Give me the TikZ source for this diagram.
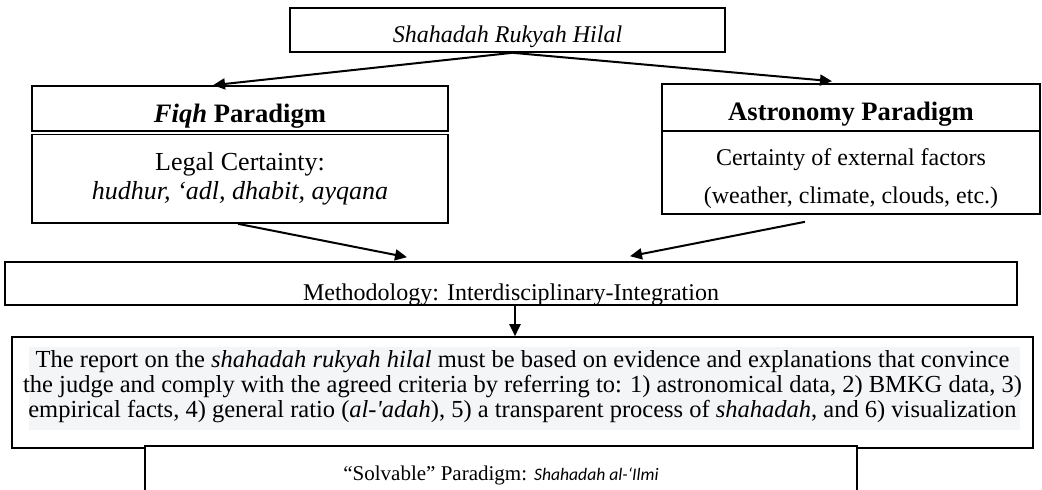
\documentclass[tikz,border=0pt]{standalone}
\usepackage{fontspec}
\setmainfont{Liberation Serif}
\newfontfamily\calibri{Carlito}
\usetikzlibrary{arrows.meta}
\definecolor{parabg}{RGB}{243,245,247}

\begin{document}
\begin{tikzpicture}[x=0.5pt,y=-0.5pt,
        box/.style={draw,line width=0.8pt,inner sep=0pt,anchor=base,align=center},
        arr/.style={line width=1pt,-{Triangle[length=6pt,width=5.5pt]}}]
    \useasboundingbox (0,0) rectangle (1042,489);

    \node[box,minimum width=217.5pt,text height=17pt,text depth=5pt,
          font=\fontsize{12}{14}\selectfont] (top) at (507.5,42)
          {\textit{Shahadah Rukyah Hilal}};

    % left column
    \node[box,minimum width=208pt,text height=18pt,text depth=4.5pt,
          font=\fontsize{13.3}{15}\selectfont] (fiqh) at (240,122)
          {\textbf{\textit{Fiqh} Paradigm}};
    \node[box,minimum width=208pt,text height=32.25pt,text depth=12pt,
          font=\fontsize{13}{14.5}\selectfont] (fiqhbody) at (240,199)
          {Legal Certainty:\\ \textit{hudhur, ‘adl, dhabit, ayqana}};

    % right column
    \node[box,minimum width=189pt,text height=18pt,text depth=5.5pt,
          font=\fontsize{13.3}{15}\selectfont] (astro) at (851,120)
          {\textbf{Astronomy Paradigm}};
    \node[box,minimum width=189pt,text height=36pt,text depth=5.5pt,
          font=\fontsize{12}{19}\selectfont] (astrobody) at (851,203)
          {Certainty of external factors\\ (weather, climate, clouds, etc.)};

    \node[box,minimum width=506pt,text height=19pt,text depth=2.5pt,
          font=\fontsize{12}{14}\selectfont] (meth) at (511,300)
          {Methodology: Interdisciplinary-Integration};

    % shaded paragraph
    \fill[parabg] (29,347) rectangle (1020,430);
    \node[box,minimum width=510.5pt,text height=40pt,text depth=15.5pt,
          font=\fontsize{12.25}{12.5}\selectfont] (report) at (522.5,417)
          {The report on the \textit{shahadah rukyah hilal} must be based on evidence and explanations that convince\\
           the judge and comply with the agreed criteria by referring to: 1) astronomical data, 2) BMKG data, 3)\\
           empirical facts, 4) general ratio (\textit{al-\textquotesingle adah}), 5) a transparent process of \textit{shahadah}, and 6) visualization};

    \node[box,fill=white,minimum width=356pt,text height=17pt,text depth=20pt,
          font=\fontsize{10.5}{12}\selectfont] (solv) at (501,480)
          {“Solvable” Paradigm: {\calibri\itshape\fontsize{8.8}{10}\selectfont Shahadah al-‘Ilmi}};

    \draw[arr] ([xshift=2.5pt]top.south) -- ([xshift=-13.5pt]fiqh.north);
    \draw[arr] ([xshift=2.5pt]top.south) -- ([xshift=-9.5pt,yshift=1pt]astro.north);
    \draw[arr] ([xshift=-1pt]fiqhbody.south) -- ([xshift=-52pt,yshift=2pt]meth.north);
    \draw[arr] ([xshift=-23pt,yshift=-3.5pt]astrobody.south) -- ([xshift=59.5pt,yshift=2.5pt]meth.north);
    \draw[arr] ([xshift=2pt]meth.south) -- ([xshift=-3.75pt]report.north);
\end{tikzpicture}
\end{document}
